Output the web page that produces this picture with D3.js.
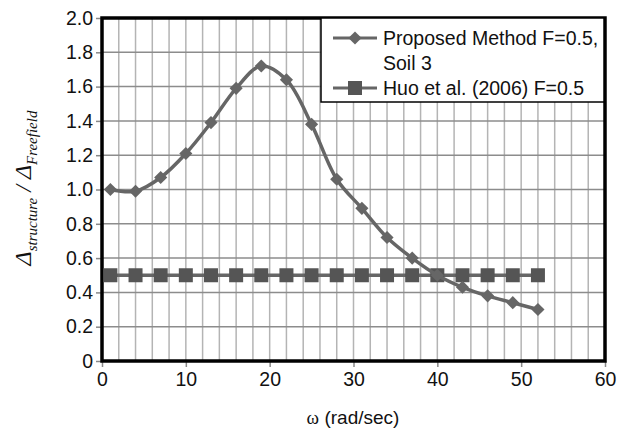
<html>
  <head>
    <script src="https://d3js.org/d3.v7.min.js"></script>
    <style>
      body { margin: 0; background: #fff; }
      text { font-family: Arial, "Liberation Sans", sans-serif; }
    </style>
  </head>

  <body>
    <svg id="vis"></svg>
  </body>

  <script>
    // Data
    var omega = [1, 4, 7, 10, 13, 16, 19, 22, 25, 28, 31, 34, 37, 40, 43, 46, 49, 52]
    var proposed = [1.0, 0.99, 1.07, 1.21, 1.39, 1.59, 1.72, 1.64, 1.38, 1.06, 0.89, 0.72, 0.60, 0.50, 0.43, 0.38, 0.34, 0.30]
    var huo = [0.5, 0.5, 0.5, 0.5, 0.5, 0.5, 0.5, 0.5, 0.5, 0.5, 0.5, 0.5, 0.5, 0.5, 0.5, 0.5, 0.5, 0.5]
    var xTicks = [0, 10, 20, 30, 40, 50, 60]
    var yTicks = [0, 0.2, 0.4, 0.6, 0.8, 1.0, 1.2, 1.4, 1.6, 1.8, 2.0]
    var legendLabels = [["Proposed Method F=0.5,", "Soil 3"], ["Huo et al. (2006) F=0.5"]]

    var W = 625, H = 431
    var margin = {top: 18, right: 20, bottom: 70, left: 102}
    var width = W - margin.left - margin.right
    var height = H - margin.top - margin.bottom
    var lineColor = "#666"
    var fs = 19.5

    var svg = d3.select("#vis").attr("width", W).attr("height", H)
    var g = svg.append("g").attr("transform", "translate(" + margin.left + "," + margin.top + ")")

    var x = d3.scaleLinear().domain([0, 60]).range([0, width])
    var y = d3.scaleLinear().domain([0, 2]).range([height, 0])

    // grid
    g.append("g").selectAll("line").data(d3.range(2, 60, 2)).join("line")
      .attr("x1", d => x(d)).attr("x2", d => x(d))
      .attr("y1", 0).attr("y2", height)
      .attr("stroke", "#b4b4b4").attr("stroke-width", 1.5)
    g.append("g").selectAll("line").data(yTicks.slice(1)).join("line")
      .attr("x1", 0).attr("x2", width)
      .attr("y1", d => y(d)).attr("y2", d => y(d))
      .attr("stroke", "#8c8c8c").attr("stroke-width", 1.5)

    // axes
    var xAxis = g.append("g").attr("transform", "translate(0," + height + ")")
      .call(d3.axisBottom(x).tickValues(xTicks).tickSize(6).tickPadding(5).tickFormat(d3.format("d")))
    var yAxis = g.append("g")
      .call(d3.axisLeft(y).tickValues(yTicks).tickSize(6).tickPadding(3).tickFormat(d => d === 0 ? "0" : d3.format(".1f")(d)))
    ;[xAxis, yAxis].forEach(function(a) {
      a.select(".domain").remove()
      a.selectAll(".tick line").attr("stroke", "#888").attr("stroke-width", 1.5)
      a.selectAll(".tick text").attr("font-size", fs).attr("fill", "#111")
        .style("font-family", "Arial, 'Liberation Sans', sans-serif")
    })

    // frame
    g.append("rect").attr("width", width).attr("height", height)
      .attr("fill", "none").attr("stroke", "#000").attr("stroke-width", 3.5)

    // series
    var line1 = d3.line().x((d, i) => x(omega[i])).y(d => y(d)).curve(d3.curveCatmullRom.alpha(0.5))
    var line2 = d3.line().x((d, i) => x(omega[i])).y(d => y(d))

    g.append("path").datum(huo).attr("d", line2)
      .attr("fill", "none").attr("stroke", lineColor).attr("stroke-width", 3.5)
    g.append("g").selectAll("rect").data(huo).join("rect")
      .attr("x", (d, i) => x(omega[i]) - 7).attr("y", d => y(d) - 7)
      .attr("width", 14).attr("height", 14).attr("fill", "#555")

    g.append("path").datum(proposed).attr("d", line1)
      .attr("fill", "none").attr("stroke", lineColor).attr("stroke-width", 3.5)
    var diamond = d3.symbol().type(d3.symbolDiamond2).size(110)
    g.append("g").selectAll("path").data(proposed).join("path")
      .attr("transform", (d, i) => "translate(" + x(omega[i]) + "," + y(d) + ")")
      .attr("d", diamond).attr("fill", lineColor)

    // legend
    var lg = svg.append("g").attr("transform", "translate(321,18)")
    lg.append("rect").attr("width", 283).attr("height", 84)
      .attr("fill", "#fff").attr("stroke", "#000").attr("stroke-width", 1.5)
    lg.append("line").attr("x1", 12).attr("x2", 56).attr("y1", 20).attr("y2", 20)
      .attr("stroke", lineColor).attr("stroke-width", 3)
    lg.append("path").attr("transform", "translate(34,20)").attr("d", diamond).attr("fill", lineColor)
    lg.append("line").attr("x1", 12).attr("x2", 56).attr("y1", 70).attr("y2", 70)
      .attr("stroke", lineColor).attr("stroke-width", 3)
    lg.append("rect").attr("x", 27).attr("y", 63).attr("width", 14).attr("height", 14).attr("fill", "#555")
    lg.append("text").attr("x", 62).attr("y", 27).attr("font-size", fs).attr("fill", "#111").text(legendLabels[0][0])
    lg.append("text").attr("x", 62).attr("y", 52).attr("font-size", fs).attr("fill", "#111").text(legendLabels[0][1])
    lg.append("text").attr("x", 62).attr("y", 77).attr("font-size", fs).attr("fill", "#111").text(legendLabels[1][0])

    // axis titles
    var xt = svg.append("text").attr("x", 353).attr("y", 424).attr("text-anchor", "middle")
      .attr("font-size", 19).attr("fill", "#111")
    xt.append("tspan").style("font-family", "'Liberation Serif', 'DejaVu Serif', serif").text("\u03c9")
    xt.append("tspan").text(" (rad/sec)")

    var yt = svg.append("text").attr("transform", "translate(31,188) rotate(-90)")
      .attr("text-anchor", "middle").attr("fill", "#111")
      .style("font-family", "'Liberation Serif', 'DejaVu Serif', serif").style("font-style", "italic")
    yt.append("tspan").attr("font-size", 24).text("\u0394")
    yt.append("tspan").attr("font-size", 15).attr("dy", 6).text("structure")
    yt.append("tspan").attr("font-size", 24).attr("dy", -6).text(" / \u0394")
    yt.append("tspan").attr("font-size", 15).attr("dy", 6).text("Freefield")
  </script>
</html>
